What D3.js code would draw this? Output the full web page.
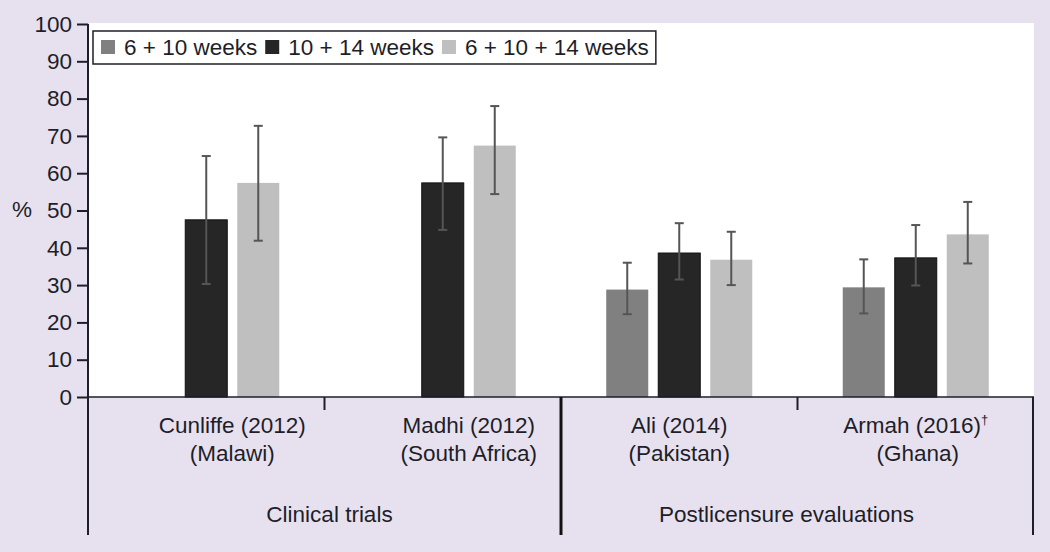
<!DOCTYPE html>
<html>
<head>
<meta charset="utf-8">
<script src="https://cdn.jsdelivr.net/npm/d3@7"></script>
<style>
  html, body { margin: 0; padding: 0; background: #e7e1ef; }
  svg { display: block; }
  text { font-family: "Liberation Sans", Arial, Helvetica, sans-serif; fill: #1e1e28; }
</style>
</head>
<body>
<svg id="chart" width="1050" height="552"></svg>
<script>
// ---- data ----
const studies = ["Cunliffe (2012)", "Madhi (2012)", "Ali (2014)", "Armah (2016)"];
const studyNotes = ["", "", "", "†"];
const countries = ["(Malawi)", "(South Africa)", "(Pakistan)", "(Ghana)"];
const studyTypes = ["Clinical trials", "Clinical trials", "Postlicensure evaluations", "Postlicensure evaluations"];
const seriesNames = ["6 + 10 weeks", "10 + 14 weeks", "6 + 10 + 14 weeks"];
const seriesColors = ["#808080", "#262626", "#bfbfbf"];

const val_6_10 = [null, null, 28.8, 29.4];
const lo_6_10 = [null, null, 22.2, 22.4];
const hi_6_10 = [null, null, 36.0, 36.9];

const val_10_14 = [47.5, 57.4, 38.6, 37.3];
const lo_10_14 = [30.3, 44.8, 31.5, 29.9];
const hi_10_14 = [64.6, 69.6, 46.6, 46.1];

const val_6_10_14 = [57.4, 67.4, 36.8, 43.6];
const lo_6_10_14 = [41.9, 54.4, 30.0, 35.8];
const hi_6_10_14 = [72.7, 78.0, 44.3, 52.3];

const yTicks = [0, 10, 20, 30, 40, 50, 60, 70, 80, 90, 100];
const yLabel = "%";

(function () {
const FS = 22.5;
// ---- build table ----
const seriesVals = [val_6_10, val_10_14, val_6_10_14];
const seriesLo = [lo_6_10, lo_10_14, lo_6_10_14];
const seriesHi = [hi_6_10, hi_10_14, hi_6_10_14];
const rows = [];
studies.forEach((s, i) => {
  seriesNames.forEach((n, j) => {
    if (seriesVals[j][i] != null) {
      rows.push({ study: s, series: n, value: seriesVals[j][i], lo: seriesLo[j][i], hi: seriesHi[j][i], color: seriesColors[j] });
    }
  });
});

// ---- layout ----
const svg = d3.select("#chart");
const mLeft = 88, mRight = 1034, mTop = 24, mBottom = 397, sepBottom = 535;

const x0 = d3.scaleBand().domain(studies).range([mLeft, mRight]).padding(0);
const x1 = d3.scaleBand().domain(seriesNames).range([0, 156]).paddingInner(0.1923).paddingOuter(0.096);
const y = d3.scaleLinear().domain([0, 100]).range([mBottom, mTop]);
const barX = (d) => x0(d.study) + x0.bandwidth() / 2 - 78 + x1(d.series);

// plot background
svg.append("rect").attr("x", mLeft + 1).attr("y", mTop - 1).attr("width", mRight - mLeft - 1).attr("height", mBottom - mTop + 1).attr("fill", "#ffffff");

// bars
svg.append("g").selectAll("rect").data(rows).join("rect")
  .attr("x", barX)
  .attr("y", d => y(d.value))
  .attr("width", x1.bandwidth())
  .attr("height", d => y(0) - y(d.value))
  .attr("fill", d => d.color)
  .attr("stroke", d => d.color === "#262626" ? "#111" : "none")
  .attr("stroke-width", 1);

// error bars
const eg = svg.append("g").attr("stroke", "#555").attr("stroke-width", 2).attr("fill", "none");
rows.forEach(d => {
  const cx = barX(d) + x1.bandwidth() / 2;
  eg.append("line").attr("x1", cx).attr("x2", cx).attr("y1", y(d.lo)).attr("y2", y(d.hi));
  eg.append("line").attr("x1", cx - 4.5).attr("x2", cx + 4.5).attr("y1", y(d.lo)).attr("y2", y(d.lo));
  eg.append("line").attr("x1", cx - 4.5).attr("x2", cx + 4.5).attr("y1", y(d.hi)).attr("y2", y(d.hi));
});

// y axis
const yAxis = d3.axisLeft(y).tickValues(yTicks).tickSize(11).tickPadding(5).tickFormat(d3.format("d"));
const yg = svg.append("g").attr("transform", `translate(${mLeft},0)`).call(yAxis);
yg.select(".domain").remove();
yg.selectAll(".tick line").attr("stroke", "#1e1e28").attr("stroke-width", 2);
yg.selectAll(".tick text").attr("font-size", FS).attr("fill", "#1e1e28")
  .style("font-family", "'Liberation Sans', Arial, sans-serif");
svg.append("line").attr("x1", mLeft).attr("x2", mLeft).attr("y1", mTop).attr("y2", sepBottom)
  .attr("stroke", "#1e1e28").attr("stroke-width", 2);

// x baseline
svg.append("line").attr("x1", mLeft).attr("x2", mRight).attr("y1", mBottom).attr("y2", mBottom)
  .attr("stroke", "#1e1e28").attr("stroke-width", 1.5);

// y label
svg.append("text").attr("x", 22).attr("y", 217).attr("text-anchor", "middle").attr("font-size", FS).text(yLabel);

// category separators
const typeNames = Array.from(new Set(studyTypes));
const typeSpans = typeNames.map(t => {
  const idx = studies.filter((s, i) => studyTypes[i] === t);
  const xs = x0(idx[0]);
  const xe = x0(idx[idx.length - 1]) + x0.bandwidth();
  return { name: t, xs, xe, studies: idx };
});
typeSpans.forEach((t, k) => {
  if (k > 0) {
    svg.append("line").attr("x1", t.xs).attr("x2", t.xs).attr("y1", mBottom).attr("y2", sepBottom)
      .attr("stroke", "#111").attr("stroke-width", 3);
  }
  t.studies.slice(1).forEach(s => {
    svg.append("line").attr("x1", x0(s)).attr("x2", x0(s)).attr("y1", mBottom).attr("y2", mBottom + 13)
      .attr("stroke", "#1e1e28").attr("stroke-width", 2);
  });
  svg.append("text").attr("x", (t.xs + t.xe) / 2 + (k === 0 ? 5 : -11)).attr("y", 522)
    .attr("text-anchor", "middle").attr("font-size", FS).text(t.name);
});
svg.append("line").attr("x1", mRight - 1).attr("x2", mRight - 1).attr("y1", mBottom).attr("y2", sepBottom)
  .attr("stroke", "#1e1e28").attr("stroke-width", 2);

// study labels, centered over present bars
studies.forEach((s, i) => {
  const present = rows.filter(r => r.study === s);
  const xa = barX(present[0]);
  const xb = barX(present[present.length - 1]) + x1.bandwidth();
  const cx = (xa + xb) / 2;
  const t1 = svg.append("text").attr("x", cx).attr("y", 433).attr("text-anchor", "middle").attr("font-size", FS);
  t1.append("tspan").text(s);
  if (studyNotes[i]) {
    t1.append("tspan").attr("font-size", 13).attr("dy", -9).text(studyNotes[i]);
  }
  svg.append("text").attr("x", cx + (studyNotes[i] ? 2 : 0)).attr("y", 461).attr("text-anchor", "middle").attr("font-size", FS).text(countries[i]);
});

// legend
const lg = svg.append("g");
const box = lg.append("rect").attr("x", 93).attr("y", 31).attr("height", 33).attr("fill", "#fff")
  .attr("stroke", "#1e1e28").attr("stroke-width", 1.5);
let lx = 101;
seriesNames.forEach((n, j) => {
  lg.append("rect").attr("x", lx).attr("y", 40).attr("width", 14).attr("height", 14).attr("fill", seriesColors[j]);
  const t = lg.append("text").attr("x", lx + 23).attr("y", 55).attr("font-size", FS).text(n);
  lx = lx + 23 + t.node().getComputedTextLength() + 8;
});
box.attr("width", lx - 8 + 7 - 93);
})();
</script>
</body>
</html>
